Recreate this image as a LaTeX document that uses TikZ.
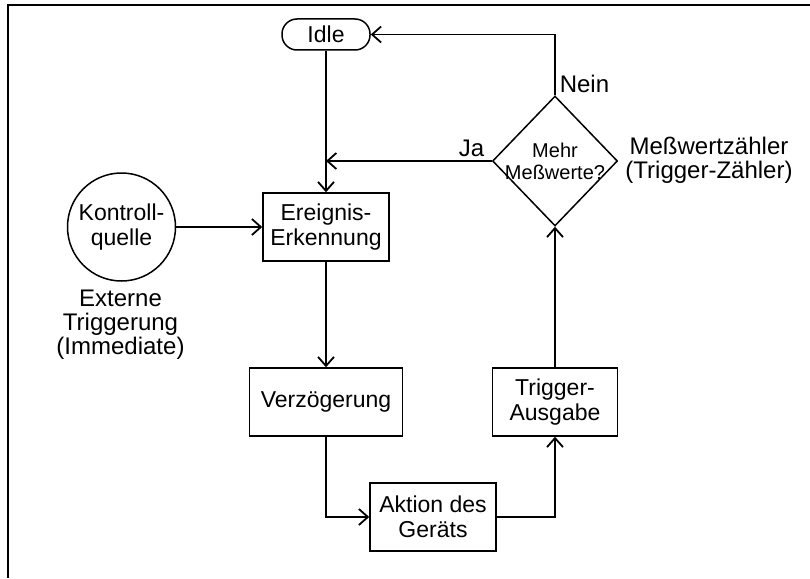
\documentclass[tikz,border=0pt]{standalone}
\usepackage{fontspec}
\setmainfont{Liberation Sans}
\usetikzlibrary{shapes.geometric,arrows.meta}
\begin{document}
\begin{tikzpicture}[x=1pt,y=-1pt,
  line width=1.5pt,
  every node/.style={font=\fontsize{23}{24.5}\selectfont, align=center, inner sep=0pt},
  box/.style={draw, rectangle, minimum height=68pt},
  lbl/.style={font=\fontsize{24}{24}\selectfont},
  arr/.style={-{Straight Barb[length=9pt,width=16pt,line width=1.8pt]}}
]
\useasboundingbox (0,0) rectangle (810,578);
\draw[line width=2pt] (8,578) -- (8,5) -- (810,5);

\node[draw, rounded corners=15pt, minimum width=88pt, minimum height=31pt] (idle) at (326,34.5) {Idle};
\node[box, minimum width=126pt] (ereignis) at (326,227) {Ereignis-\\Erkennung};
\node[box, minimum width=153pt] (verz) at (326,402) {Verzögerung};
\node[box, minimum width=126pt] (aktion) at (433,517) {Aktion des\\Geräts};
\node[box, minimum width=125pt] (trigger) at (555,402) {Trigger-\\Ausgabe};
\node[draw, diamond, minimum width=125pt, minimum height=130pt] (dia) at (555,161) {};
\node[font=\fontsize{20}{22}\selectfont] (diatext) at (dia.center) {Mehr\\Meßwerte?};
\node[draw, circle, minimum size=108pt] (kq) at (121.5,227) {Kontroll-\\quelle};

\node[lbl, anchor=base west] (nein) at (559,92) {Nein};
\node[lbl, anchor=base east] (ja) at (485,156) {Ja};
\node[lbl, anchor=north] (extern) at (120.5,289) {Externe\\Triggerung\\(Immediate)};
\node[lbl, anchor=north] (zaehler) at (709,136) {Meßwertzähler\\(Trigger-Zähler)};

\coordinate (jaend) at (ereignis.north |- dia.west);
\draw[arr] (idle.south) -- (ereignis.north);
\draw[arr] (dia.west) -- (jaend);
\draw[arr] (dia.north) |- (idle.east);
\draw[arr] (kq.east) -- (ereignis.west);
\draw[arr] (ereignis.south) -- (verz.north);
\draw[arr] (verz.south) |- (aktion.west);
\draw[arr] (aktion.east) -| (trigger.south);
\draw[arr] (trigger.north) -- (dia.south);
\end{tikzpicture}
\end{document}
